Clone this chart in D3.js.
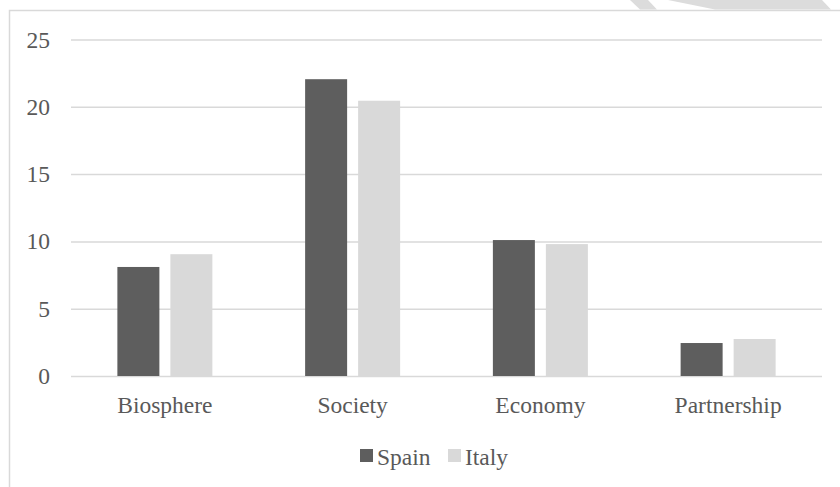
<!DOCTYPE html>
<html>
<head>
<meta charset="utf-8">
<script src="https://cdn.jsdelivr.net/npm/d3@7"></script>
<style>
  html, body { margin: 0; padding: 0; background: #fff; }
  svg { display: block; }
</style>
</head>
<body>
<svg id="chart" width="840" height="487"></svg>
<script>
const categories = ["Biosphere", "Society", "Economy", "Partnership"];
const seriesNames = ["Spain", "Italy"];
const spainValues = [8.1, 22.05, 10.1, 2.45];
const italyValues = [9.05, 20.45, 9.8, 2.75];
const yTicks = [0, 5, 10, 15, 20, 25];
const seriesColors = ["#5e5e5e", "#d9d9d9"];

const FONT = "'Liberation Serif', 'Times New Roman', serif";
const FS = "23.5px";
const svg = d3.select("#chart");

// page decoration (top-right)
svg.append("polygon").attr("points", "630,0 648,0 657,9.5 640,9.5").attr("fill", "#dcdcdc");
svg.append("polygon").attr("points", "668,0 822,0 831,9.5 715,9.5").attr("fill", "#dcdcdc");

// chart frame
svg.append("path")
  .attr("d", "M9.5,487 L9.5,10.5 L840,10.5")
  .attr("fill", "none").attr("stroke", "#d9d9d9").attr("stroke-width", 1.5);

const x0 = d3.scaleBand().domain(categories).range([71, 822]).paddingInner(0.494).paddingOuter(0.247);
const x1 = d3.scaleBand().domain(seriesNames).range([0, x0.bandwidth()]).paddingInner(0.2075).paddingOuter(0);
const y = d3.scaleLinear().domain([0, 25]).range([376, 39.5]);

// gridlines + y tick labels
const yAxis = d3.axisLeft(y).tickValues(yTicks).tickSize(-(822 - 71)).tickPadding(21).tickFormat(d3.format("d"));
const gy = svg.append("g").attr("transform", "translate(71,0)").call(yAxis);
gy.select(".domain").remove();
gy.attr("font-family", null).attr("font-size", null);
gy.selectAll(".tick line").attr("stroke", "#d9d9d9").attr("stroke-width", 1.5);
gy.selectAll(".tick text").style("font-size", FS).style("fill", "#595959").style("font-family", FONT);

// bars
const data = categories.map((c, i) => ({ cat: c, vals: [spainValues[i], italyValues[i]] }));
const groups = svg.append("g").selectAll("g").data(data).join("g")
  .attr("transform", d => `translate(${x0(d.cat)},0)`);
groups.selectAll("rect").data(d => d.vals.map((v, j) => ({ name: seriesNames[j], v, j })))
  .join("rect")
  .attr("x", d => x1(d.name))
  .attr("y", d => y(d.v))
  .attr("width", x1.bandwidth())
  .attr("height", d => y(0) - y(d.v))
  .attr("fill", d => seriesColors[d.j]);

// x axis labels
const xAxis = d3.axisBottom(x0).tickSize(0).tickPadding(0);
const gx = svg.append("g").attr("transform", "translate(0,376)").call(xAxis);
gx.select(".domain").remove();
gx.attr("font-family", null).attr("font-size", null);
gx.selectAll(".tick text").style("font-size", FS).style("fill", "#595959").style("font-family", FONT)
  .attr("dy", null).attr("y", 37);

// legend
const legendX = [360, 448];
const leg = svg.append("g");
seriesNames.forEach((s, i) => {
  leg.append("rect").attr("x", legendX[i]).attr("y", 449).attr("width", 13).attr("height", 13).attr("fill", seriesColors[i]);
  leg.append("text").attr("x", legendX[i] + 17).attr("y", 465)
    .style("font-size", FS).style("fill", "#595959").style("font-family", FONT).text(s);
});
</script>
</body>
</html>
